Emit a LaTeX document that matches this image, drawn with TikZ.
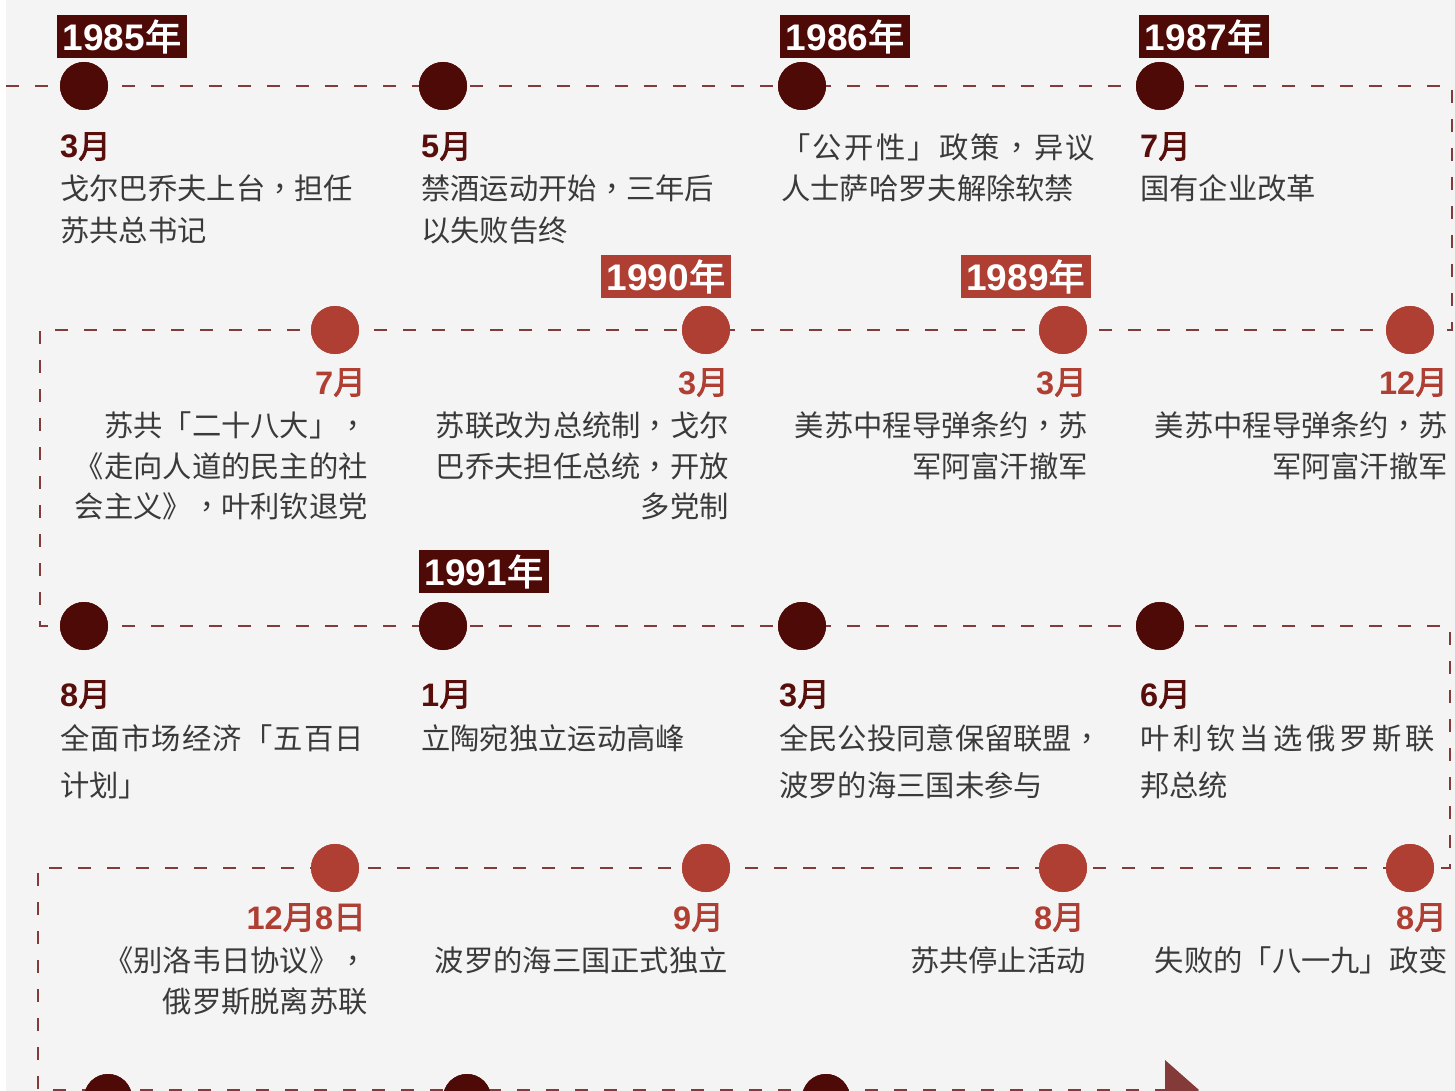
\documentclass[tikz,border=0pt]{standalone}
\usepackage{fontspec}
\newfontfamily\cjk[AutoFakeBold=2.5]{Noto Sans CJK SC}
\newfontfamily\cjkt{Noto Sans CJK TC}
\newfontfamily\lib{Liberation Sans}
\definecolor{dk}{RGB}{78,10,6}
\definecolor{rd}{RGB}{176,63,51}
\definecolor{ln}{RGB}{132,58,56}
\definecolor{bgc}{RGB}{244,244,244}
\definecolor{tx}{RGB}{58,58,58}
\definecolor{mdk}{RGB}{88,14,10}
\newcommand{\yr}[1]{{\lib\bfseries\fontsize{37}{37}\selectfont #1}{\cjk\bfseries\fontsize{36}{36}\selectfont 年}}
\newcommand{\mo}[1]{{\lib\bfseries #1}{\cjk\bfseries 月}}
\newcommand{\dg}[1]{{\lib\bfseries #1}}
\newcommand{\cb}[1]{{\cjk\bfseries #1}}
\newcommand{\pc}{{\cjkt ，}}
\begin{document}
\begin{tikzpicture}[x=1pt,y=-1pt,
  dotdk/.style={circle,fill=dk,minimum size=48pt,inner sep=0pt},
  dotrd/.style={circle,fill=rd,minimum size=48pt,inner sep=0pt},
  yearbox/.style={fill=#1,minimum width=130pt,minimum height=43pt,inner sep=0pt,text=white},
  mondk/.style={inner sep=0pt,text=mdk,font=\fontsize{32.5}{32.5}\selectfont},
  monrd/.style={inner sep=0pt,text=rd,font=\fontsize{32.5}{32.5}\selectfont},
  desc/.style={inner sep=0pt,text=tx,font=\cjk\fontsize{29.3}{29.3}\selectfont},
  dashline/.style={draw=ln,line width=2pt,dash pattern=on 13pt off 16pt}]
\useasboundingbox (0,0) rectangle (1455,1091);
\clip (0,0) rectangle (1455,1091);
\fill[white] (0,0) rectangle (1455,1091);
\fill[bgc] (6,0) rectangle (1455,1091);
% dots
\node[dotdk] (d11) at (84,86) {};
\node[dotdk] (d12) at (443,86) {};
\node[dotdk] (d13) at (802,86) {};
\node[dotdk] (d14) at (1160,86) {};
\node[dotrd] (d21) at (335,330) {};
\node[dotrd] (d22) at (706,330) {};
\node[dotrd] (d23) at (1063,330) {};
\node[dotrd] (d24) at (1410,330) {};
\node[dotdk] (d31) at (84,626) {};
\node[dotdk] (d32) at (443,626) {};
\node[dotdk] (d33) at (802,626) {};
\node[dotdk] (d34) at (1160,626) {};
\node[dotrd] (d41) at (335,868) {};
\node[dotrd] (d42) at (706,868) {};
\node[dotrd] (d43) at (1063,868) {};
\node[dotrd] (d44) at (1410,868) {};
\node[dotdk] (d51) at (108,1098) {};
\node[dotdk] (d52) at (467,1098) {};
\node[dotdk] (d53) at (826,1098) {};
% path
\coordinate (p0) at (6,86);
\coordinate (c1) at (1452,86);
\coordinate (c2) at (1452,330);
\coordinate (c3) at (40,330);
\coordinate (c4) at (40,626);
\coordinate (c5) at (1450,626);
\coordinate (c6) at (1450,868);
\coordinate (c7) at (38,868);
\coordinate (c8) at (38,1090);
\coordinate (pend) at (1165,1090);
\draw[dashline] (p0) -- (c1) -- (c2) -- (c3) -- (c4) -- (c5) -- (c6) -- (c7) -- (c8) -- (pend);
\fill[ln] (1165,1060) -- (1199,1090) -- (1165,1120) -- cycle;
% redraw dots on top
\foreach \n in {d11,d12,d13,d14,d31,d32,d33,d34,d51,d52,d53} \fill[dk] (\n) circle (24pt);
\foreach \n in {d21,d22,d23,d24,d41,d42,d43,d44} \fill[rd] (\n) circle (24pt);
% year boxes
\node[yearbox=dk] (y85) at (122,36.5) {\yr{1985}};
\node[yearbox=dk] (y86) at (845,36.5) {\yr{1986}};
\node[yearbox=dk] (y87) at (1204,36.5) {\yr{1987}};
\node[yearbox=rd] (y90) at (666,276.5) {\yr{1990}};
\node[yearbox=rd] (y89) at (1025.5,276.5) {\yr{1989}};
\node[yearbox=dk] (y91) at (484,571.5) {\yr{1991}};
% row 1
\node[mondk,anchor=base west] (m11) at (60,158) {\mo{3}};
\node[desc,anchor=base west] (t11a) at (60,200) {戈尔巴乔夫上台\pc 担任};
\node[desc,anchor=base west] (t11b) at (60,241) {苏共总书记};
\node[mondk,anchor=base west] (m12) at (421,158) {\mo{5}};
\node[desc,anchor=base west] (t12a) at (421,200) {禁酒运动开始\pc 三年后};
\node[desc,anchor=base west] (t12b) at (421,241) {以失败告终};
\node[desc,anchor=base west] (t13a) at (781,159) {\makebox[314pt][s]{「\hfill 公\hfill 开\hfill 性\hfill 」\hfill 政\hfill 策\hfill \pc\hfill 异\hfill 议}};
\node[desc,anchor=base west] (t13b) at (781,200) {人士萨哈罗夫解除软禁};
\node[mondk,anchor=base west] (m14) at (1140,158) {\mo{7}};
\node[desc,anchor=base west] (t14a) at (1140,200) {国有企业改革};
% row 2
\node[monrd,anchor=base east] (m21) at (366,394) {\mo{7}};
\node[desc,anchor=base east] (t21a) at (368,436) {苏共「二十八大」\pc};
\node[desc,anchor=base east] (t21b) at (368,477) {《走向人道的民主的社};
\node[desc,anchor=base east] (t21c) at (368,517) {会主义》\pc 叶利钦退党};
\node[monrd,anchor=base east] (m22) at (729,394) {\mo{3}};
\node[desc,anchor=base east] (t22a) at (729,436) {苏联改为总统制\pc 戈尔};
\node[desc,anchor=base east] (t22b) at (729,477) {巴乔夫担任总统\pc 开放};
\node[desc,anchor=base east] (t22c) at (729,517) {多党制};
\node[monrd,anchor=base east] (m23) at (1087,394) {\mo{3}};
\node[desc,anchor=base east] (t23a) at (1088,436) {美苏中程导弹条约\pc 苏};
\node[desc,anchor=base east] (t23b) at (1088,477) {军阿富汗撤军};
\node[monrd,anchor=base east] (m24) at (1448,394) {\mo{12}};
\node[desc,anchor=base east] (t24a) at (1448,436) {美苏中程导弹条约\pc 苏};
\node[desc,anchor=base east] (t24b) at (1448,477) {军阿富汗撤军};
% row 3
\node[mondk,anchor=base west] (m31) at (60,706) {\mo{8}};
\node[desc,anchor=base west] (t31a) at (60,749) {\makebox[304pt][s]{全\hfill 面\hfill 市\hfill 场\hfill 经\hfill 济\hfill 「\hfill 五\hfill 百\hfill 日}};
\node[desc,anchor=base west] (t31b) at (60,796) {计划」};
\node[mondk,anchor=base west] (m32) at (421,706) {\mo{1}};
\node[desc,anchor=base west] (t32a) at (421,749) {立陶宛独立运动高峰};
\node[mondk,anchor=base west] (m33) at (779,706) {\mo{3}};
\node[desc,anchor=base west] (t33a) at (779,749) {全民公投同意保留联盟\pc};
\node[desc,anchor=base west] (t33b) at (779,796) {波罗的海三国未参与};
\node[mondk,anchor=base west] (m34) at (1140,706) {\mo{6}};
\node[desc,anchor=base west] (t34a) at (1140,749) {\makebox[295pt][s]{叶\hfill 利\hfill 钦\hfill 当\hfill 选\hfill 俄\hfill 罗\hfill 斯\hfill 联}};
\node[desc,anchor=base west] (t34b) at (1140,796) {邦总统};
% row 4
\node[monrd,anchor=base east] (m41) at (366,929) {\dg{12}\cb{月}\dg{8}\cb{日}};
\node[desc,anchor=base east] (t41a) at (368,971) {《别洛韦日协议》\pc};
\node[desc,anchor=base east] (t41b) at (368,1012) {俄罗斯脱离苏联};
\node[monrd,anchor=base east] (m42) at (724,929) {\mo{9}};
\node[desc,anchor=base east] (t42a) at (728,971) {波罗的海三国正式独立};
\node[monrd,anchor=base east] (m43) at (1085,929) {\mo{8}};
\node[desc,anchor=base east] (t43a) at (1086,971) {苏共停止活动};
\node[monrd,anchor=base east] (m44) at (1447,929) {\mo{8}};
\node[desc,anchor=base east] (t44a) at (1448,971) {失败的「八一九」政变};
\end{tikzpicture}
\end{document}
